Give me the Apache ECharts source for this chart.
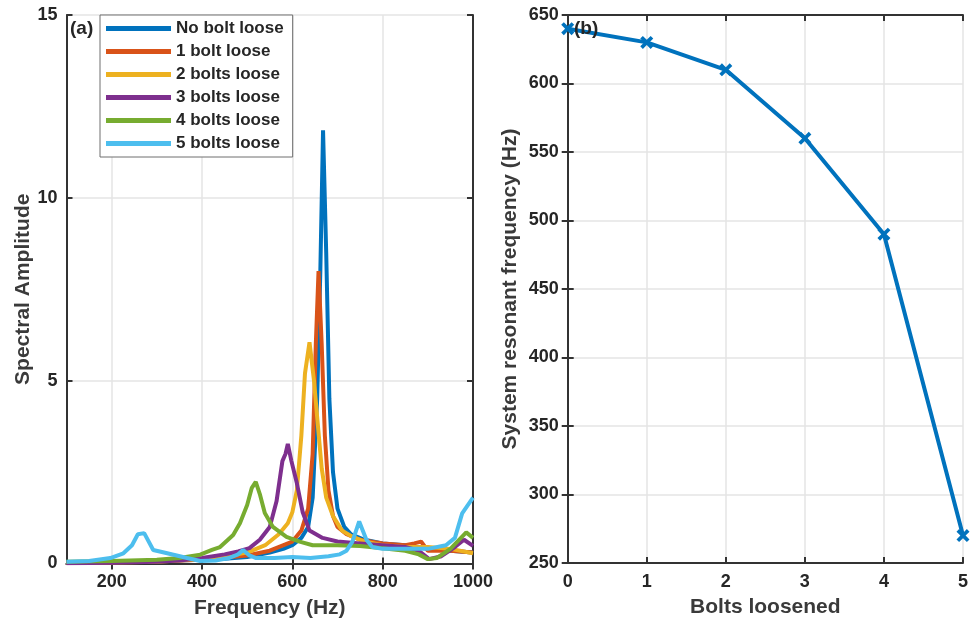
<!DOCTYPE html>
<html>
<head>
<meta charset="utf-8">
<script src="https://cdn.jsdelivr.net/npm/echarts@6/dist/echarts.min.js"></script>
<style>
  html, body { margin: 0; padding: 0; background: #fff; }
  #chart { width: 971px; height: 625px; }
</style>
</head>
<body>
<div id="chart"></div>
<script>
// Spectra for each bolt condition: frequency (Hz) and spectral amplitude
const freqNoLoose = [100, 200, 300, 400, 450, 500, 550, 580, 600, 620, 635, 645, 655, 662, 668, 675, 682, 690, 700, 715, 730, 760, 800, 850, 900, 950, 1000];
const ampNoLoose  = [0.03, 0.05, 0.07, 0.1, 0.13, 0.18, 0.3, 0.4, 0.5, 0.7, 1.0, 1.8, 4.5, 8.0, 11.85, 8.5, 4.5, 2.5, 1.5, 1.0, 0.8, 0.65, 0.55, 0.5, 0.4, 0.35, 0.3];

const freq1Loose = [100, 200, 300, 400, 500, 550, 600, 620, 635, 645, 652, 658, 665, 672, 680, 690, 700, 720, 750, 800, 850, 870, 885, 900, 950, 1000];
const amp1Loose  = [0.02, 0.04, 0.06, 0.1, 0.22, 0.35, 0.6, 0.9, 1.5, 3.0, 6.0, 8.0, 6.0, 3.5, 2.0, 1.3, 1.0, 0.8, 0.65, 0.55, 0.5, 0.55, 0.6, 0.35, 0.35, 0.3];

const freq2Loose = [100, 200, 300, 400, 450, 500, 540, 570, 590, 600, 610, 620, 628, 638, 648, 655, 665, 675, 690, 710, 730, 760, 800, 850, 900, 950, 1000];
const amp2Loose  = [0.02, 0.03, 0.05, 0.12, 0.2, 0.3, 0.5, 0.8, 1.1, 1.4, 2.0, 3.5, 5.2, 6.05, 5.0, 4.0, 2.6, 1.8, 1.3, 0.9, 0.75, 0.6, 0.5, 0.45, 0.45, 0.4, 0.28];

const freq3Loose = [100, 200, 300, 350, 400, 450, 480, 505, 528, 550, 565, 578, 585, 590, 598, 610, 623, 638, 667, 700, 750, 800, 850, 880, 903, 930, 960, 980, 1000];
const amp3Loose  = [0.01, 0.02, 0.05, 0.08, 0.15, 0.25, 0.33, 0.42, 0.65, 1.0, 1.7, 2.8, 3.0, 3.27, 2.8, 2.2, 1.4, 0.9, 0.7, 0.6, 0.55, 0.5, 0.45, 0.35, 0.12, 0.2, 0.45, 0.65, 0.48];

const freq4Loose = [100, 200, 300, 350, 396, 422, 440, 469, 484, 500, 510, 519, 528, 539, 557, 587, 616, 645, 700, 750, 800, 850, 880, 900, 920, 950, 985, 1000];
const amp4Loose  = [0.05, 0.07, 0.1, 0.15, 0.24, 0.37, 0.45, 0.78, 1.1, 1.6, 2.06, 2.23, 1.9, 1.38, 1.0, 0.73, 0.6, 0.5, 0.5, 0.48, 0.42, 0.35, 0.25, 0.12, 0.15, 0.4, 0.85, 0.7];

const freq5Loose = [100, 150, 197, 226, 245, 258, 272, 292, 323, 367, 396, 430, 460, 480, 491, 505, 520, 560, 600, 640, 680, 705, 720, 733, 748, 764, 777, 800, 850, 900, 940, 960, 976, 1000];
const amp5Loose  = [0.05, 0.07, 0.15, 0.28, 0.5, 0.8, 0.83, 0.37, 0.28, 0.15, 0.07, 0.08, 0.15, 0.25, 0.37, 0.22, 0.15, 0.15, 0.18, 0.15, 0.2, 0.25, 0.35, 0.6, 1.15, 0.65, 0.45, 0.4, 0.4, 0.4, 0.5, 0.7, 1.37, 1.8];

const seriesNames = ['No bolt loose', '1 bolt loose', '2 bolts loose', '3 bolts loose', '4 bolts loose', '5 bolts loose'];
const seriesColors = ['#0072BD', '#D95319', '#EDB120', '#7E2F8E', '#77AC30', '#4DBEEE'];
const freqTicks = [200, 400, 600, 800, 1000];

// Resonant frequency against number of loosened bolts
const boltsLoosened = [0, 1, 2, 3, 4, 5];
const resonantFreq = [640, 630, 610, 560, 490, 270];

const FONT = "'Liberation Sans', Arial, Helvetica, sans-serif";
const AX = '#333333';
const GRID = '#e4e4e4';

const spectra = [
  [freqNoLoose, ampNoLoose], [freq1Loose, amp1Loose], [freq2Loose, amp2Loose],
  [freq3Loose, amp3Loose], [freq4Loose, amp4Loose], [freq5Loose, amp5Loose]
];

const plain = function (v) { return String(v); };
const tickLabel = { fontFamily: FONT, fontWeight: 'bold', fontSize: 18, color: '#262626', formatter: plain };
const nameText = { fontFamily: FONT, fontWeight: 'bold', fontSize: 21, color: '#3a3a3a' };
const axLine = { show: true, lineStyle: { color: AX, width: 2 } };
const tickIn = { show: true, inside: true, length: 6, lineStyle: { color: AX, width: 2 } };

function boxAxis(base) {
  return Object.assign({
    axisLine: axLine,
    axisTick: tickIn,
    axisLabel: { show: false },
    splitLine: { show: false }
  }, base);
}

const xMarker = 'path://M2,0 L5,3 L8,0 L10,2 L7,5 L10,8 L8,10 L5,7 L2,10 L0,8 L3,5 L0,2 Z';

const chart = echarts.init(document.getElementById('chart'), null, { renderer: 'canvas' });

chart.setOption({
  animation: false,
  backgroundColor: '#ffffff',
  grid: [
    { left: 66.5, top: 15, width: 406.5, height: 548.5 },
    { left: 567.7, top: 15, width: 400, height: 548 }
  ],
  legend: {
    data: seriesNames,
    orient: 'vertical',
    left: 100,
    top: 15,
    padding: [5, 9, 5, 6],
    itemWidth: 65,
    itemHeight: 5,
    itemGap: 6,
    icon: 'rect',
    backgroundColor: '#ffffff',
    borderColor: '#6e6e6e',
    borderWidth: 1,
    selectedMode: false,
    textStyle: { fontFamily: FONT, fontWeight: 'bold', fontSize: 17, lineHeight: 17, color: '#262626' }
  },
  xAxis: [
    {
      gridIndex: 0, type: 'value', position: 'bottom', min: 100, max: 1000,
      name: 'Frequency (Hz)', nameLocation: 'middle', nameGap: 34, nameTextStyle: nameText,
      axisLine: axLine,
      axisTick: Object.assign({}, tickIn, { customValues: freqTicks }),
      axisLabel: Object.assign({}, tickLabel, { margin: 10, customValues: freqTicks }),
      splitLine: { show: true, lineStyle: { color: GRID, width: 1.5 } }
    },
    boxAxis({ gridIndex: 0, type: 'value', position: 'top', min: 100, max: 1000,
      axisTick: Object.assign({}, tickIn, { customValues: freqTicks }) }),
    {
      gridIndex: 1, type: 'value', position: 'bottom', min: 0, max: 5, interval: 1,
      name: 'Bolts loosened', nameLocation: 'middle', nameGap: 34, nameTextStyle: nameText,
      axisLine: axLine, axisTick: tickIn,
      axisLabel: Object.assign({}, tickLabel, { margin: 10 }),
      splitLine: { show: true, lineStyle: { color: GRID, width: 1.5 } }
    },
    boxAxis({ gridIndex: 1, type: 'value', position: 'top', min: 0, max: 5, interval: 1 })
  ],
  yAxis: [
    {
      gridIndex: 0, type: 'value', position: 'left', min: 0, max: 15, interval: 5,
      name: 'Spectral Amplitude', nameLocation: 'middle', nameGap: 31, nameTextStyle: nameText,
      axisLine: axLine, axisTick: tickIn,
      axisLabel: Object.assign({}, tickLabel, { margin: 9 }),
      splitLine: { show: true, lineStyle: { color: GRID, width: 1.5 } }
    },
    boxAxis({ gridIndex: 0, type: 'value', position: 'right', min: 0, max: 15, interval: 5 }),
    {
      gridIndex: 1, type: 'value', position: 'left', min: 250, max: 650, interval: 50,
      name: 'System resonant frequency (Hz)', nameLocation: 'middle', nameGap: 47, nameTextStyle: nameText,
      axisLine: axLine, axisTick: tickIn,
      axisLabel: Object.assign({}, tickLabel, { margin: 9 }),
      splitLine: { show: true, lineStyle: { color: GRID, width: 1.5 } }
    },
    boxAxis({ gridIndex: 1, type: 'value', position: 'right', min: 250, max: 650, interval: 50 })
  ],
  graphic: [
    { type: 'text', left: 70, top: 19, style: { text: '(a)', font: 'bold 19px ' + FONT, fill: '#262626' }, z: 10 },
    { type: 'text', left: 574, top: 19, style: { text: '(b)', font: 'bold 19px ' + FONT, fill: '#262626' }, z: 10 }
  ],
  series: spectra.map(function (s, i) {
    return {
      name: seriesNames[i],
      type: 'line',
      xAxisIndex: 0,
      yAxisIndex: 0,
      data: s[0].map(function (f, j) { return [f, s[1][j]]; }),
      showSymbol: false,
      symbol: 'none',
      color: seriesColors[i],
      lineStyle: { color: seriesColors[i], width: 4 },
      z: 2 + i * 0.01
    };
  }).concat([{
    name: 'Resonant frequency',
    type: 'line',
    xAxisIndex: 2,
    yAxisIndex: 2,
    data: boltsLoosened.map(function (b, i) { return [b, resonantFreq[i]]; }),
    symbol: xMarker,
    symbolSize: 13,
    clip: false,
    color: '#0072BD',
    itemStyle: { color: '#0072BD' },
    lineStyle: { color: '#0072BD', width: 4 }
  }])
});
</script>
</body>
</html>
